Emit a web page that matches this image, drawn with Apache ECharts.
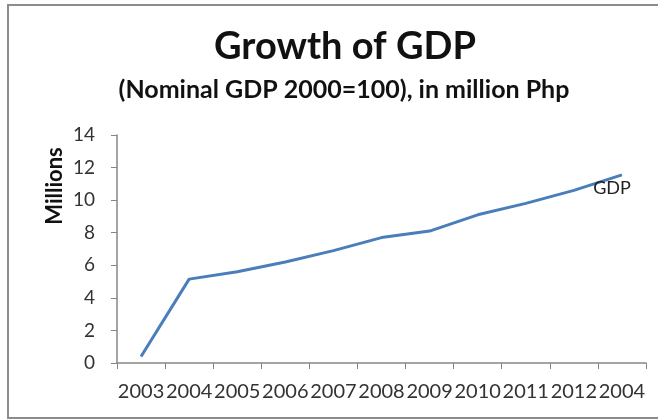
<!DOCTYPE html>
<html>
<head>
    <meta charset="utf-8">
    <script src="https://cdn.jsdelivr.net/npm/echarts@6/dist/echarts.min.js"></script>
    <style>
        html, body { margin: 0; padding: 0; background: #fff; }
        #main { width: 658px; height: 420px; }
    </style>
</head>
<body>
<div id="main"></div>
<script type="text/javascript">
    // x labels as printed in the picture (last one really reads 2004)
    var years = ['2003', '2004', '2005', '2006', '2007', '2008', '2009', '2010', '2011', '2012', '2004'];
    var gdp = [0.4, 5.15, 5.6, 6.2, 6.9, 7.7, 8.1, 9.1, 9.8, 10.6, 11.55];
    var yTicks = [0, 14, 2];   // min, max, step

    var myChart = echarts.init(document.getElementById('main'));
    var font = 'Lato';

    // label only the last point, like the Excel series label
    var seriesData = gdp.map(function (v, i) {
        if (i === gdp.length - 1) {
            return {
                value: v,
                label: {
                    show: true, formatter: 'GDP', position: 'bottom', distance: 4,
                    offset: [-10, 0], color: '#222', fontSize: 18, fontFamily: font
                }
            };
        }
        return v;
    });

    var option = {
        animation: false,
        backgroundColor: '#fff',
        title: [
            {
                text: 'Growth of GDP',
                left: 340, top: 23, textAlign: 'center',
                textStyle: { fontFamily: font, fontSize: 38, fontWeight: 'bold', color: '#111' }
            },
            {
                text: '(Nominal GDP 2000=100), in million Php',
                left: 339, top: 72, textAlign: 'center',
                textStyle: { fontFamily: font, fontSize: 25, fontWeight: 'bold', color: '#111' }
            }
        ],
        graphic: [
            {
                type: 'rect', silent: true,
                shape: { x: 8, y: 5, width: 700, height: 413 },
                style: { fill: 'none', stroke: '#8c8c8c', lineWidth: 2 }
            },
            {
                type: 'text', silent: true,
                x: 55, y: 186, rotation: Math.PI / 2,
                style: {
                    text: 'Millions', fill: '#111', font: 'bold 22px Lato',
                    textAlign: 'center', textVerticalAlign: 'middle'
                }
            }
        ],
        grid: { left: 117, right: 12, top: 135, bottom: 57 },
        xAxis: {
            type: 'category',
            data: years,
            boundaryGap: true,
            axisLine: { lineStyle: { color: '#868686', width: 1.5 } },
            axisTick: { show: true, length: 6, interval: 0, lineStyle: { color: '#868686' } },
            axisLabel: { interval: 0, margin: 19, color: '#333', fontSize: 20, fontFamily: font }
        },
        yAxis: {
            type: 'value',
            min: yTicks[0], max: yTicks[1], interval: yTicks[2],
            splitLine: { show: false },
            axisLine: { show: true, lineStyle: { color: '#868686', width: 1.5 } },
            axisTick: { show: true, length: 6, lineStyle: { color: '#868686' } },
            axisLabel: { margin: 22, color: '#333', fontSize: 19, fontFamily: font }
        },
        series: [{
            name: 'GDP',
            type: 'line',
            data: seriesData,
            symbol: 'circle',
            symbolSize: 0,
            lineStyle: { color: '#4a7ebb', width: 3 }
        }]
    };
    myChart.setOption(option);
</script>
</body>
</html>
